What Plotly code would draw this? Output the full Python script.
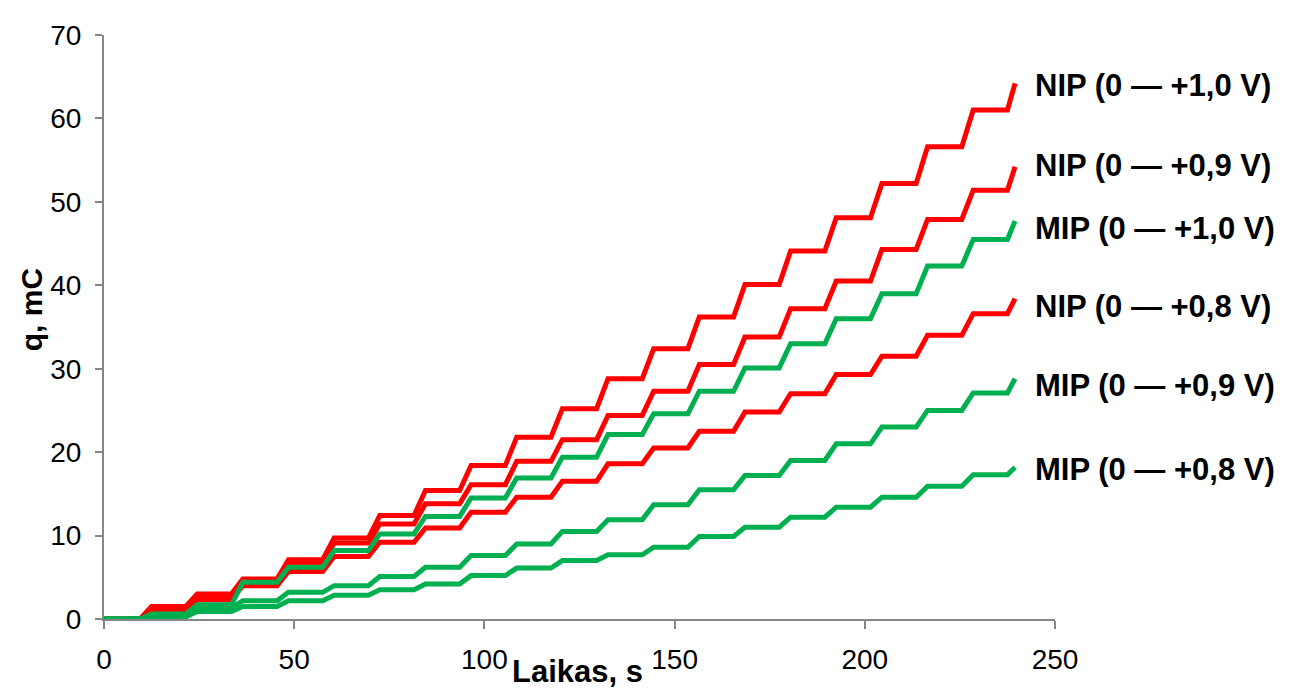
import plotly.graph_objects as go

# Step timing (s): start of each charge step and end of its rise
step_start = [9.5, 21.5, 33.5, 45.5, 57.5, 69.5, 81.5, 93.5, 105.5, 117.5,
              129.5, 141.5, 153.5, 165.5, 177.5, 189.5, 201.5, 213.5, 225.5, 237.5]
step_end = [12.5, 24.5, 36.5, 48.5, 60.5, 72.5, 84.5, 96.5, 108.5, 120.5,
            132.5, 144.5, 156.5, 168.5, 180.5, 192.5, 204.5, 216.5, 228.5, 239.5]

# Charge plateaus (mC) after each step
nip_10 = [1.5, 3.0, 4.8, 7.1, 9.7, 12.4, 15.4, 18.4, 21.8, 25.2,
          28.8, 32.4, 36.2, 40.1, 44.1, 48.1, 52.2, 56.6, 61.0, 64.2]
nip_09 = [1.3, 2.7, 4.4, 6.7, 9.1, 11.4, 13.8, 16.1, 18.9, 21.5,
          24.4, 27.3, 30.5, 33.8, 37.2, 40.5, 44.3, 47.9, 51.4, 54.2]
mip_10 = [0.6, 1.7, 4.4, 6.2, 8.2, 10.2, 12.3, 14.5, 16.9, 19.4,
          22.1, 24.6, 27.3, 30.1, 33.0, 36.0, 39.0, 42.3, 45.5, 47.7]
nip_08 = [1.0, 2.3, 4.0, 5.7, 7.5, 9.2, 10.9, 12.8, 14.6, 16.5,
          18.6, 20.5, 22.5, 24.8, 27.0, 29.3, 31.5, 34.0, 36.6, 38.4]
mip_09 = [0.4, 1.3, 2.2, 3.2, 4.0, 5.1, 6.2, 7.6, 9.0, 10.5,
          11.9, 13.7, 15.5, 17.2, 19.0, 21.0, 23.0, 25.0, 27.1, 28.8]
mip_08 = [0.25, 0.9, 1.5, 2.2, 2.85, 3.5, 4.2, 5.2, 6.1, 7.0,
          7.7, 8.6, 9.9, 11.0, 12.2, 13.4, 14.6, 15.9, 17.3, 18.2]

labels = ["NIP (0 — +1,0 V)", "NIP (0 — +0,9 V)", "MIP (0 — +1,0 V)",
          "NIP (0 — +0,8 V)", "MIP (0 — +0,9 V)", "MIP (0 — +0,8 V)"]
label_y = [64.0, 54.4, 46.8, 37.4, 28.0, 17.9]

RED = "#FF0000"
GREEN = "#00B050"

series = [
    (nip_10, RED), (nip_09, RED), (nip_08, RED),
    (mip_10, GREEN), (mip_09, GREEN), (mip_08, GREEN),
]


def staircase(values):
    xs, ys = [0.0], [0.0]
    prev = 0.0
    for t0, t1, v in zip(step_start, step_end, values):
        xs += [t0, t1]
        ys += [prev, v]
        prev = v
    return xs, ys


fig = go.Figure()
for vals, col in series:
    xs, ys = staircase(vals)
    fig.add_trace(go.Scatter(x=xs, y=ys, mode="lines",
                             line=dict(color=col, width=5),
                             showlegend=False, hoverinfo="skip"))

FONT = "Arial, Liberation Sans, sans-serif"

for txt, yv in zip(labels, label_y):
    fig.add_annotation(x=244.3, y=yv, xref="x", yref="y", text="<b>%s</b>" % txt,
                       showarrow=False, xanchor="left", yanchor="middle",
                       font=dict(family=FONT, size=31, color="black"))

fig.add_annotation(x=0.498, y=-0.09, xref="paper", yref="paper",
                   text="<b>Laikas, s</b>", showarrow=False,
                   xanchor="center", yanchor="middle",
                   font=dict(family=FONT, size=31, color="black"))
fig.add_annotation(x=-0.076, y=0.53, xref="paper", yref="paper",
                   text="<b>q, mC</b>", showarrow=False, textangle=-90,
                   xanchor="center", yanchor="middle",
                   font=dict(family=FONT, size=30, color="black"))

fig.update_layout(
    width=1289, height=688,
    margin=dict(l=96, r=242, t=20, b=77),
    paper_bgcolor="white", plot_bgcolor="white",
    font=dict(family=FONT, size=28, color="black"),
    xaxis=dict(range=[0, 250], tickvals=[0, 50, 100, 150, 200, 250],
               showgrid=False, zeroline=False, showline=True,
               linecolor="#868686", linewidth=2, ticks="outside",
               ticklen=8, tickwidth=2, tickcolor="#868686",
               ticklabelstandoff=6,
               tickfont=dict(family=FONT, size=28)),
    yaxis=dict(range=[0, 70], tickvals=[0, 10, 20, 30, 40, 50, 60, 70],
               showgrid=False, zeroline=False, showline=True,
               linecolor="#868686", linewidth=2, ticks="outside",
               ticklen=7, tickwidth=2, tickcolor="#868686",
               ticklabelstandoff=8,
               tickfont=dict(family=FONT, size=28)),
)

fig.write_html("out.html")
